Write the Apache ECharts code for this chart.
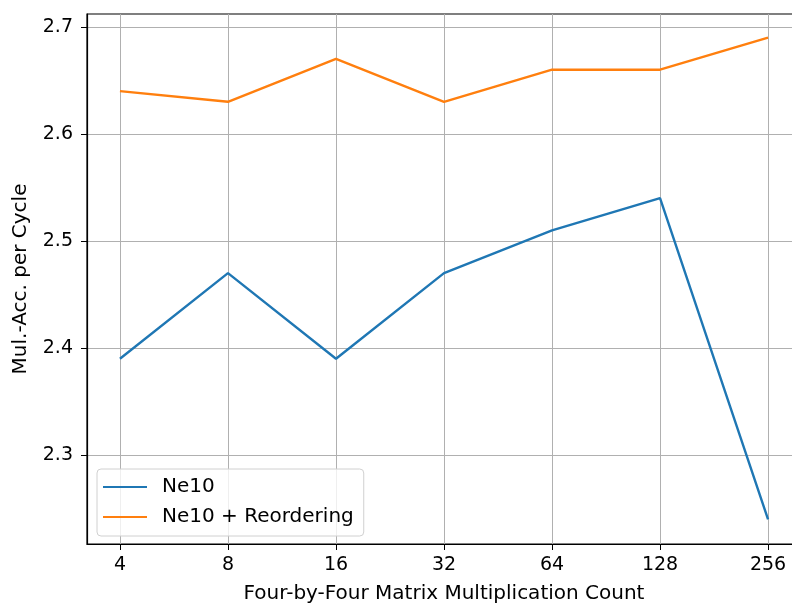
<!DOCTYPE html>
<html><head><meta charset="utf-8">
<script src="https://cdn.jsdelivr.net/npm/echarts@6/dist/echarts.min.js"></script>
<style>html,body{margin:0;padding:0;background:#fff;overflow:hidden}#c{width:801px;height:610px}</style>
</head><body><div id="c"></div>
<script>
const categories = ['4','8','16','32','64','128','256'];
const ne10 = [2.39, 2.47, 2.39, 2.47, 2.51, 2.54, 2.24];
const ne10Reorder = [2.64, 2.63, 2.67, 2.63, 2.66, 2.66, 2.69];
const yTicks = [2.3, 2.4, 2.5, 2.6, 2.7];
const xTicks = categories.map((c, i) => i);

const chart = echarts.init(document.getElementById('c'), null, {renderer: 'canvas'});
const font = 'DejaVu Sans';
const axisCommon = {
  axisLine: {show: true, onZero: false, lineStyle: {color: '#000', width: 1.2}},
  axisTick: {show: true, inside: false, length: 6, lineStyle: {color: '#000', width: 1}},
  splitLine: {show: true, lineStyle: {color: '#b0b0b0', width: 1}},
};
chart.setOption({
  animation: false,
  textStyle: {fontFamily: font},
  grid: {left: 87, right: 0, top: 14, bottom: 66, show: true, borderColor: '#000', borderWidth: 1.2, containLabel: false},
  legend: {
    orient: 'vertical', left: 97, top: 469,
    padding: [8, 10, 9, 6], itemGap: 10, itemWidth: 44, itemHeight: 14,
    borderColor: '#d0d0d0', borderWidth: 1, borderRadius: 4, backgroundColor: 'rgba(255,255,255,0.8)',
    textStyle: {fontFamily: font, fontSize: 20, color: '#000', padding: [0, 0, 0, 10]},
    icon: 'path://M0,6 L40,6 L40,8 L0,8 Z',
    data: ['Ne10', 'Ne10 + Reordering']
  },
  xAxis: Object.assign({}, axisCommon, {
    type: 'value', min: -0.305, max: 6.305,
    name: 'Four-by-Four Matrix Multiplication Count', nameLocation: 'middle', nameGap: 40,
    nameTextStyle: {fontFamily: font, fontSize: 20, color: '#000'},
    axisTick: Object.assign({}, axisCommon.axisTick, {customValues: xTicks}),
    axisLabel: {customValues: xTicks, fontFamily: font, fontSize: 19, color: '#000', margin: 12,
      formatter: v => categories[Math.round(v)]}
  }),
  yAxis: Object.assign({}, axisCommon, {
    type: 'value', min: 2.217, max: 2.712,
    name: 'Mul.-Acc. per Cycle', nameLocation: 'middle', nameGap: 56,
    nameTextStyle: {fontFamily: font, fontSize: 20, color: '#000'},
    axisTick: Object.assign({}, axisCommon.axisTick, {customValues: yTicks}),
    axisLabel: {customValues: yTicks, fontFamily: font, fontSize: 19, color: '#000', margin: 14,
      formatter: v => v.toFixed(1)}
  }),
  series: [
    {name: 'Ne10', type: 'line', data: ne10.map((v, i) => [i, v]), showSymbol: false, symbol: 'none',
      lineStyle: {color: '#1f77b4', width: 2.4}, itemStyle: {color: '#1f77b4'}},
    {name: 'Ne10 + Reordering', type: 'line', data: ne10Reorder.map((v, i) => [i, v]), showSymbol: false, symbol: 'none',
      lineStyle: {color: '#ff7f0e', width: 2.4}, itemStyle: {color: '#ff7f0e'}}
  ]
});
</script></body></html>
